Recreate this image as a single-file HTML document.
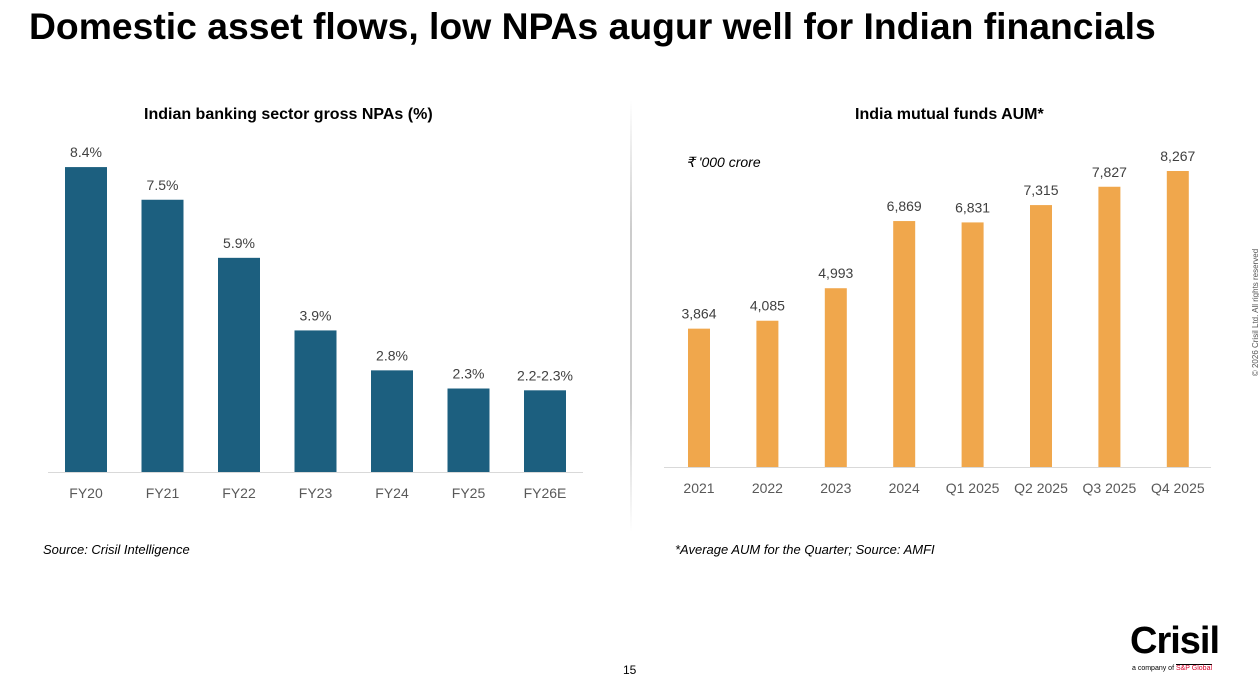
<!DOCTYPE html>
<html><head><meta charset="utf-8"><style>
body{margin:0;width:1259px;height:689px;background:#fff;font-family:"Liberation Sans",sans-serif;position:relative;overflow:hidden}
.t{position:absolute;white-space:nowrap}
</style></head><body>
<div class="t" style="left:29px;top:5px;font-size:37.3px;font-weight:bold;color:#000">Domestic asset flows, low NPAs augur well for Indian financials</div>
<div class="t" style="left:144px;top:106px;font-size:16px;font-weight:bold">Indian banking sector gross NPAs (%)</div>
<div class="t" style="left:855px;top:106px;font-size:16px;font-weight:bold">India mutual funds AUM*</div>
<div class="t" style="left:686px;top:154px;font-size:14px;font-style:italic">₹ '000 crore</div>
<div class="t" style="left:43px;top:542px;font-size:13px;font-style:italic">Source: Crisil Intelligence</div>
<div class="t" style="left:675px;top:542px;font-size:13px;font-style:italic">*Average AUM for the Quarter; Source: AMFI</div>
<div class="t" style="left:623px;top:663px;font-size:12px">15</div>
<div style="position:absolute;left:630px;top:100px;width:2px;height:432px;background:linear-gradient(#fff,#ccc 30%,#ccc 70%,#fff)"></div>
<div class="t" style="left:1192px;top:308px;font-size:8px;color:#555;transform:rotate(-90deg);transform-origin:center">© 2026 Crisil Ltd. All rights reserved</div>
<div class="t" style="left:1130px;top:620px;font-size:38px;font-weight:bold;letter-spacing:-1px">Crisil</div>
<div class="t" style="left:1132px;top:665px;font-size:7px">a company of <span style="color:#d6002a;border-top:1px solid #000">S&amp;P Global</span></div>
<svg id="c" width="1259" height="689" style="position:absolute;left:0;top:0"></svg>
<script>
const npaCats=["FY20","FY21","FY22","FY23","FY24","FY25","FY26E"];
const npaVals=[8.4,7.5,5.9,3.9,2.8,2.3,2.25];
const npaLabels=["8.4%","7.5%","5.9%","3.9%","2.8%","2.3%","2.2-2.3%"];
const aumCats=["2021","2022","2023","2024","Q1 2025","Q2 2025","Q3 2025","Q4 2025"];
const aumVals=[3864,4085,4993,6869,6831,7315,7827,8267];
const aumLabels=["3,864","4,085","4,993","6,869","6,831","7,315","7,827","8,267"];
const svg=document.getElementById('c');const NS="http://www.w3.org/2000/svg";
function mk(t,a,txt){const e=document.createElementNS(NS,t);for(const k in a)e.setAttribute(k,a[k]);if(txt!==undefined)e.textContent=txt;svg.appendChild(e);return e;}
function draw(cats,vals,labels,o){
  const x=i=>o.x0+i*o.step, y=v=>o.base-v*o.scale;
  const ax=mk('line',{x1:o.ax1,x2:o.ax2,y1:o.base+0.5,y2:o.base+0.5,stroke:'#d9d9d9'});
  
  cats.forEach((c,i)=>{
    const r=mk('rect',{x:x(i)-o.w/2,y:y(vals[i]),width:o.w,height:vals[i]*o.scale,fill:o.col});
    
    const l=mk('text',{x:x(i),y:y(vals[i])-10,'text-anchor':'middle','font-size':14,fill:'#404040'},labels[i]);
    
    const t=mk('text',{x:x(i),y:o.base+26,'text-anchor':'middle','font-size':14,fill:'#595959'},c);
    
  });
}
draw(npaCats,npaVals,npaLabels,{p:'npa',x0:86,step:76.5,w:42,base:472,scale:36.3,col:'#1c5f7f',ax1:48,ax2:583});
draw(aumCats,aumVals,aumLabels,{p:'aum',x0:699,step:68.4,w:22,base:467,scale:296/8267,col:'#f0a74c',ax1:664,ax2:1211});
</script>
</body></html>
